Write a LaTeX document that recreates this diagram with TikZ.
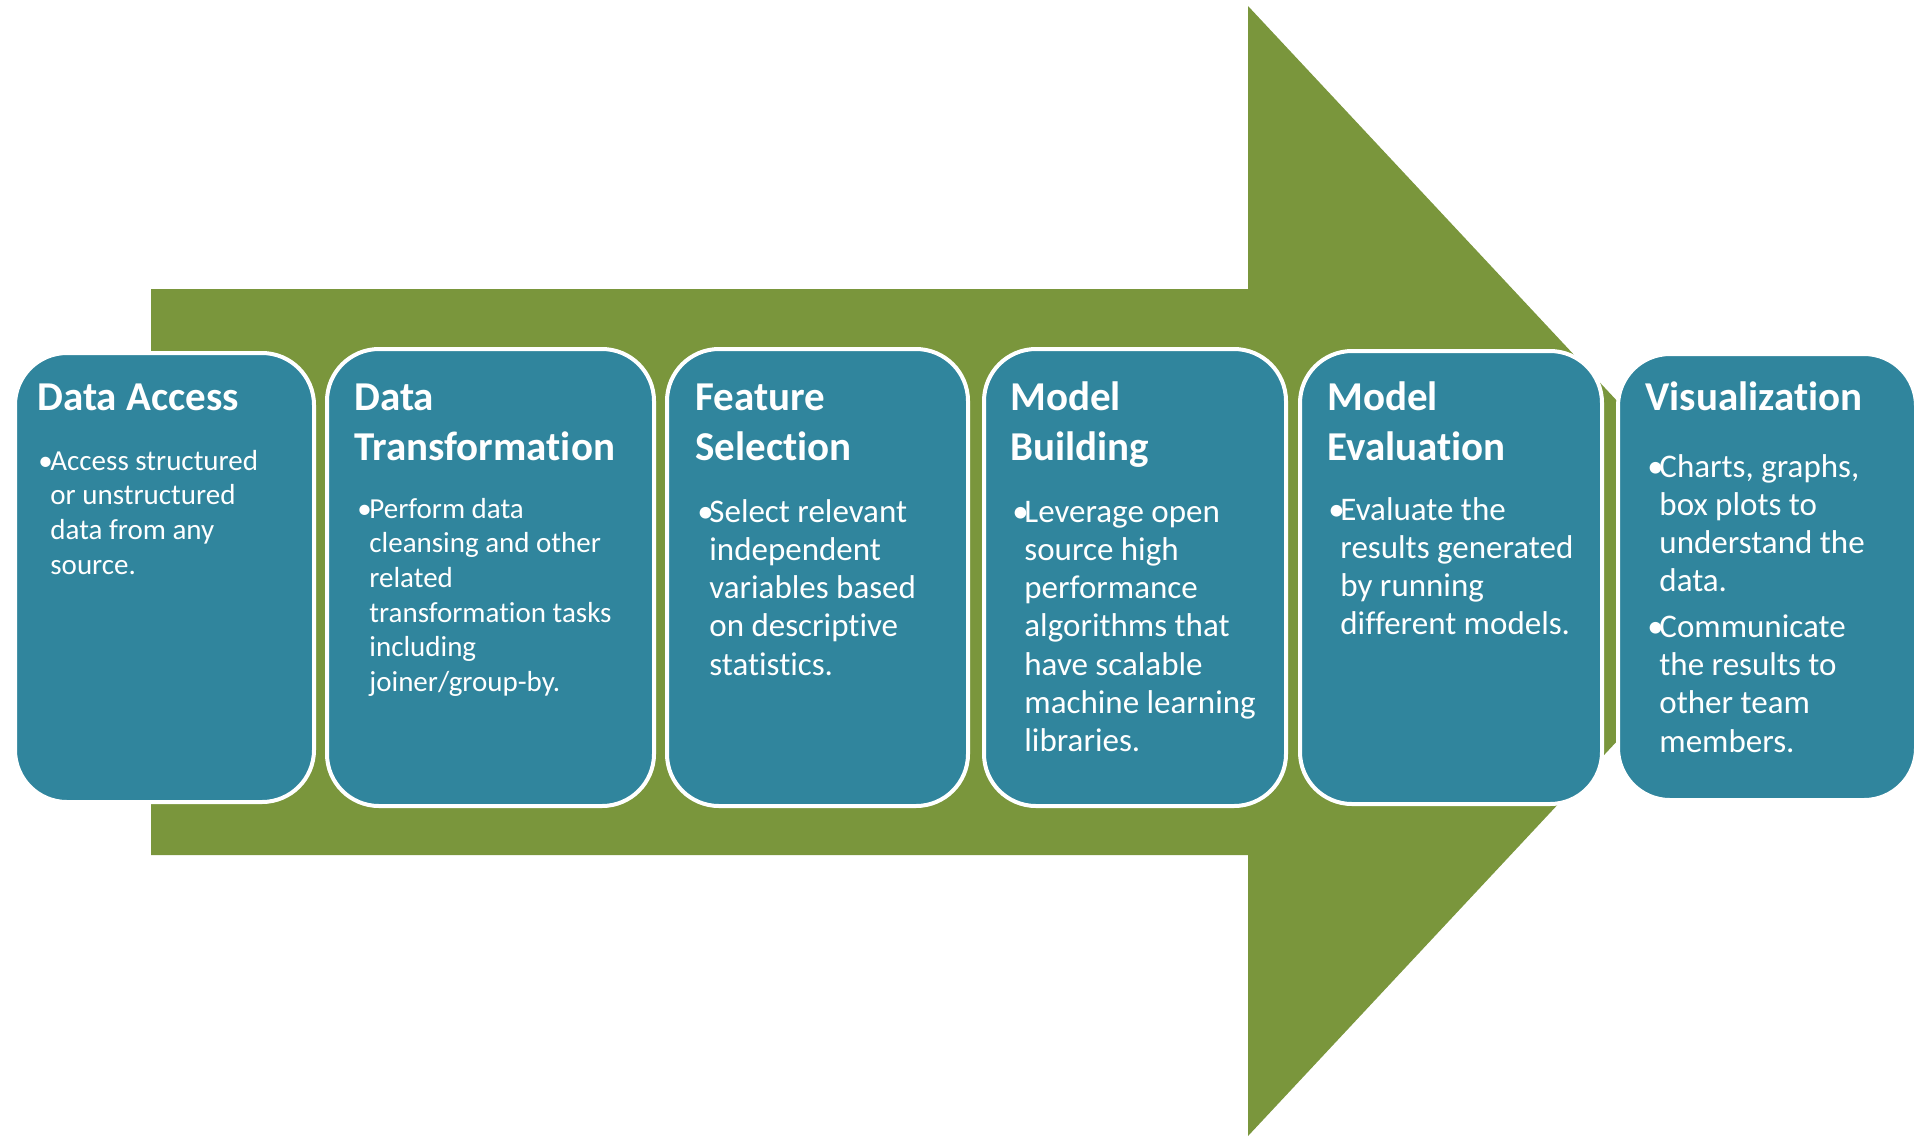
\documentclass[tikz,border=0pt]{standalone}
\usepackage{fontspec}
\setmainfont{Carlito}[Ligatures=NoCommon]
\definecolor{arrowgreen}{HTML}{7A963C}
\definecolor{boxteal}{HTML}{30859D}
\newcommand{\stagebullet}{\makebox[6pt][l]{\textbullet}}
\begin{document}
\begin{tikzpicture}[x=0.5pt,y=-0.5pt,
  stagebox/.style={draw=white, line width=2pt, fill=boxteal, rounded corners=26pt, anchor=north west, inner sep=0pt},
  titletext/.style={anchor=base west, inner sep=0pt, text=white, font=\bfseries\fontsize{20.5}{25}\selectfont},
  bodytext/.style={anchor=base west, inner sep=0pt, text=white, font=\fontsize{16.5}{19.15}\selectfont},
  smallbody/.style={bodytext, font=\fontsize{14.5}{17.35}\selectfont}]
\useasboundingbox (0,0) rectangle (1915,1136);
% big arrow
\fill[arrowgreen] (151,289) -- (1248,289) -- (1248,6) -- (1776,571) -- (1248,1136) -- (1248,855) -- (151,855) -- cycle;
% boxes
\node[stagebox, minimum width=149.5pt, minimum height=224.5pt] (b1) at (13,351) {};
\node[stagebox, minimum width=163.5pt, minimum height=228.5pt] (b2) at (325,347) {};
\node[stagebox, minimum width=150.5pt, minimum height=228.5pt] (b3) at (665,347) {};
\node[stagebox, minimum width=151pt, minimum height=228.5pt] (b4) at (982,347) {};
\node[stagebox, minimum width=151pt, minimum height=226.5pt] (b5) at (1298,349) {};
\node[stagebox, minimum width=149pt, minimum height=223pt] (b6) at (1616,352) {};
% titles
\node[titletext] (t1) at (37,410) {Data Access};
\node[titletext] (t2) at (354,410) {\begin{tabular}[t]{@{}l@{}}Data\\Transformation\end{tabular}};
\node[titletext] (t3) at (695,410) {\begin{tabular}[t]{@{}l@{}}Feature\\Selection\end{tabular}};
\node[titletext] (t4) at (1010,410) {\begin{tabular}[t]{@{}l@{}}Model\\Building\end{tabular}};
\node[titletext] (t5) at (1327,410) {\begin{tabular}[t]{@{}l@{}}Model\\Evaluation\end{tabular}};
\node[titletext] (t6) at (1645,410) {Visualization};
% bodies
\node[smallbody] (d1) at (38,470) {\begin{tabular}[t]{@{}l@{}l@{}}\stagebullet & Access structured\\ & or unstructured\\ & data from any\\ & source.\end{tabular}};
\node[smallbody] (d2) at (357,518) {\begin{tabular}[t]{@{}l@{}l@{}}\stagebullet & Perform data\\ & cleansing and other\\ & related\\ & transformation tasks\\ & including\\ & joiner/group-by.\end{tabular}};
\node[bodytext] (d3) at (697,522) {\begin{tabular}[t]{@{}l@{}l@{}}\stagebullet & Select relevant\\ & independent\\ & variables based\\ & on descriptive\\ & statistics.\end{tabular}};
\node[bodytext] (d4) at (1012,522) {\begin{tabular}[t]{@{}l@{}l@{}}\stagebullet & Leverage open\\ & source high\\ & performance\\ & algorithms that\\ & have scalable\\ & machine learning\\ & libraries.\end{tabular}};
\node[bodytext] (d5) at (1328,520) {\begin{tabular}[t]{@{}l@{}l@{}}\stagebullet & Evaluate the\\ & results generated\\ & by running\\ & different models.\end{tabular}};
\node[bodytext] (d6) at (1647,477) {\begin{tabular}[t]{@{}l@{}l@{}}\stagebullet & Charts, graphs,\\ & box plots to\\ & understand the\\ & data.\\[3.5pt] \stagebullet & Communicate\\ & the results to\\ & other team\\ & members.\end{tabular}};
\end{tikzpicture}
\end{document}
